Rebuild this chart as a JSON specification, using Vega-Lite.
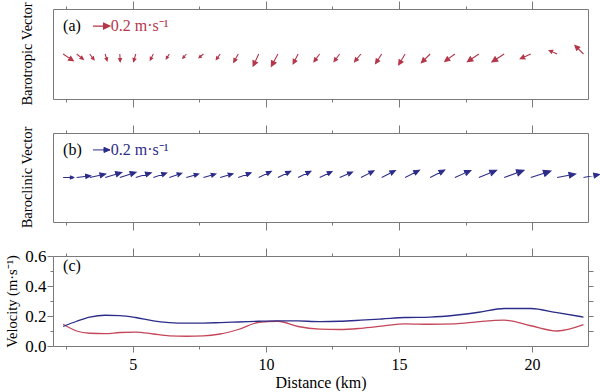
{
  "$schema": "https://vega.github.io/schema/vega-lite/v6.json",
  "padding": {"left": 4, "top": 0, "right": 4, "bottom": 0},
  "bounds": "flush",
  "spacing": 34,
  "datasets": {
    "st": [
      {"x": 2.38, "bt": 0.145, "dbt": 34, "bc": 0.13, "dbc": 0},
      {"x": 2.89, "bt": 0.1, "dbt": 39, "bc": 0.165, "dbc": 353},
      {"x": 3.38, "bt": 0.085, "dbt": 53, "bc": 0.192, "dbc": 348},
      {"x": 3.96, "bt": 0.082, "dbt": 74, "bc": 0.205, "dbc": 343},
      {"x": 4.51, "bt": 0.09, "dbt": 87, "bc": 0.203, "dbc": 342},
      {"x": 5.11, "bt": 0.093, "dbt": 106, "bc": 0.19, "dbc": 343},
      {"x": 5.77, "bt": 0.08, "dbt": 117, "bc": 0.167, "dbc": 341},
      {"x": 6.37, "bt": 0.068, "dbt": 122, "bc": 0.156, "dbc": 341},
      {"x": 7.01, "bt": 0.065, "dbt": 130, "bc": 0.152, "dbc": 344},
      {"x": 7.65, "bt": 0.067, "dbt": 140, "bc": 0.153, "dbc": 344},
      {"x": 8.28, "bt": 0.08, "dbt": 125, "bc": 0.156, "dbc": 344},
      {"x": 8.96, "bt": 0.11, "dbt": 119, "bc": 0.16, "dbc": 340},
      {"x": 9.73, "bt": 0.158, "dbt": 115, "bc": 0.165, "dbc": 334},
      {"x": 10.45, "bt": 0.165, "dbt": 118, "bc": 0.168, "dbc": 334},
      {"x": 11.21, "bt": 0.13, "dbt": 117, "bc": 0.167, "dbc": 334},
      {"x": 12.02, "bt": 0.113, "dbt": 127, "bc": 0.163, "dbc": 334},
      {"x": 12.77, "bt": 0.11, "dbt": 127, "bc": 0.165, "dbc": 337},
      {"x": 13.57, "bt": 0.118, "dbt": 130, "bc": 0.172, "dbc": 333},
      {"x": 14.35, "bt": 0.132, "dbt": 123, "bc": 0.18, "dbc": 333},
      {"x": 15.23, "bt": 0.148, "dbt": 121, "bc": 0.19, "dbc": 333},
      {"x": 16.17, "bt": 0.145, "dbt": 135, "bc": 0.193, "dbc": 333},
      {"x": 17.1, "bt": 0.148, "dbt": 144, "bc": 0.205, "dbc": 336},
      {"x": 18.0, "bt": 0.163, "dbt": 146, "bc": 0.225, "dbc": 338},
      {"x": 18.95, "bt": 0.172, "dbt": 147, "bc": 0.25, "dbc": 340},
      {"x": 19.95, "bt": 0.135, "dbt": 156, "bc": 0.25, "dbc": 342},
      {"x": 20.94, "bt": 0.1, "dbt": 204, "bc": 0.222, "dbc": 349},
      {"x": 21.93, "bt": 0.142, "dbt": 225, "bc": 0.193, "dbc": 349}
    ]
  },
  "vconcat": [
    {
      "width": 535,
      "height": 90,
      "title": {"text": "Barotropic Vector", "orient": "left", "anchor": "middle", "offset": 18, "font": "Liberation Serif", "fontSize": 14.5, "fontWeight": "normal", "color": "#000"},
      "resolve": {"axis": {"x": "independent"}},
      "layer": [
        {
          "data": {"name": "st"},
          "mark": {"type": "point", "shape": "M0,0L2,0M2,0L1.25,-0.36L1.25,0.36Z", "filled": true, "fill": "#b5364a", "stroke": "#b5364a", "strokeWidth": 1.1, "opacity": 1},
          "encoding": {
            "x": {"field": "x", "type": "quantitative", "scale": {"domain": [2, 22.1], "nice": false, "zero": false},
              "axis": {"orient": "bottom", "values": [2.5, 5, 7.5, 10, 12.5, 15, 17.5, 20], "labels": false, "title": null,
                "tickSize": {"condition": {"test": "datum.value % 5 === 0", "value": 8}, "value": 3}}},
            "y": {"datum": 0, "type": "quantitative", "scale": {"domain": [-1, 1]}, "axis": null},
            "size": {"field": "bt", "type": "quantitative", "scale": {"type": "pow", "exponent": 2, "domain": [0, 0.2], "range": [0, 289]}, "legend": null},
            "angle": {"field": "dbt", "type": "quantitative", "scale": null}
          }
        },
        {
          "data": {"values": [{}]},
          "mark": {"type": "text", "text": "(a)", "align": "left", "baseline": "middle", "font": "Liberation Serif", "fontSize": 16, "color": "#000"},
          "encoding": {
            "x": {"datum": 2.38, "type": "quantitative",
              "axis": {"orient": "top", "values": [2.5, 5, 7.5, 10, 12.5, 15, 17.5, 20], "labels": false, "title": null,
                "tickSize": {"condition": {"test": "datum.value % 5 === 0", "value": 8}, "value": 3}}},
            "y": {"datum": 0.62, "type": "quantitative", "axis": null}
          }
        },
        {
          "data": {"values": [{}]},
          "mark": {"type": "point", "shape": "M0,0L2,0M2,0L1.25,-0.36L1.25,0.36Z", "filled": true, "fill": "#b5364a", "stroke": "#b5364a", "strokeWidth": 1.1, "opacity": 1},
          "encoding": {
            "x": {"datum": 3.5, "type": "quantitative", "axis": null},
            "y": {"datum": 0.62, "type": "quantitative", "axis": null},
            "size": {"datum": 0.2, "type": "quantitative", "legend": null}
          }
        },
        {
          "data": {"values": [{}]},
          "mark": {"type": "text", "text": "0.2 m·s⁻¹", "align": "left", "baseline": "middle", "font": "Liberation Serif", "fontSize": 16, "color": "#b5364a"},
          "encoding": {
            "x": {"datum": 4.17, "type": "quantitative", "axis": null},
            "y": {"datum": 0.62, "type": "quantitative", "axis": null}
          }
        }
      ]
    },
    {
      "width": 535,
      "height": 89,
      "title": {"text": "Baroclinic Vector", "orient": "left", "anchor": "middle", "offset": 18, "font": "Liberation Serif", "fontSize": 14.5, "fontWeight": "normal", "color": "#000"},
      "resolve": {"axis": {"x": "independent"}},
      "layer": [
        {
          "data": {"name": "st"},
          "mark": {"type": "point", "shape": "M0,0L2,0M2,0L1.3,-0.3L1.3,0.3Z", "filled": true, "fill": "#2c2c8a", "stroke": "#2c2c8a", "strokeWidth": 1, "opacity": 1},
          "encoding": {
            "x": {"field": "x", "type": "quantitative", "scale": {"domain": [2, 22.1], "nice": false, "zero": false},
              "axis": {"orient": "bottom", "values": [2.5, 5, 7.5, 10, 12.5, 15, 17.5, 20], "labels": false, "title": null,
                "tickSize": {"condition": {"test": "datum.value % 5 === 0", "value": 8}, "value": 3}}},
            "y": {"datum": 0, "type": "quantitative", "scale": {"domain": [-1, 1]}, "axis": null},
            "size": {"field": "bc", "type": "quantitative", "scale": {"type": "pow", "exponent": 2, "domain": [0, 0.2], "range": [0, 289]}, "legend": null},
            "angle": {"field": "dbc", "type": "quantitative", "scale": null}
          }
        },
        {
          "data": {"values": [{}]},
          "mark": {"type": "text", "text": "(b)", "align": "left", "baseline": "middle", "font": "Liberation Serif", "fontSize": 16, "color": "#000"},
          "encoding": {
            "x": {"datum": 2.38, "type": "quantitative",
              "axis": {"orient": "top", "values": [2.5, 5, 7.5, 10, 12.5, 15, 17.5, 20], "labels": false, "title": null,
                "tickSize": {"condition": {"test": "datum.value % 5 === 0", "value": 8}, "value": 3}}},
            "y": {"datum": 0.62, "type": "quantitative", "axis": null}
          }
        },
        {
          "data": {"values": [{}]},
          "mark": {"type": "point", "shape": "M0,0L2,0M2,0L1.3,-0.3L1.3,0.3Z", "filled": true, "fill": "#2c2c8a", "stroke": "#2c2c8a", "strokeWidth": 1, "opacity": 1},
          "encoding": {
            "x": {"datum": 3.5, "type": "quantitative", "axis": null},
            "y": {"datum": 0.62, "type": "quantitative", "axis": null},
            "size": {"datum": 0.2, "type": "quantitative", "legend": null}
          }
        },
        {
          "data": {"values": [{}]},
          "mark": {"type": "text", "text": "0.2 m·s⁻¹", "align": "left", "baseline": "middle", "font": "Liberation Serif", "fontSize": 16, "color": "#2c2c8a"},
          "encoding": {
            "x": {"datum": 4.17, "type": "quantitative", "axis": null},
            "y": {"datum": 0.62, "type": "quantitative", "axis": null}
          }
        }
      ]
    },
    {
      "width": 535,
      "height": 90,
      "resolve": {"axis": {"x": "independent", "y": "independent"}},
      "layer": [
        {
          "data": {"name": "st"},
          "mark": {"type": "line", "color": "#c4475a", "strokeWidth": 1.3, "interpolate": "monotone"},
          "encoding": {
            "x": {"field": "x", "type": "quantitative", "scale": {"domain": [2, 22.1], "nice": false, "zero": false},
              "axis": {"orient": "bottom", "values": [2.5, 5, 7.5, 10, 12.5, 15, 17.5, 20], "title": "Distance (km)", "titleFontSize": 16, "titlePadding": 2,
                "labelExpr": "datum.value % 5 === 0 ? datum.label : ''", "labelPadding": 4, "labelFontSize": 16,
                "tickSize": {"condition": {"test": "datum.value % 5 === 0", "value": 6}, "value": 3}}},
            "y": {"field": "bt", "type": "quantitative", "scale": {"domain": [0, 0.6], "nice": false},
              "axis": {"orient": "left", "title": "Velocity (m·s⁻¹)", "titlePadding": 5, "values": [0, 0.1, 0.2, 0.3, 0.4, 0.5, 0.6],
                "labelExpr": "round(datum.value*10) % 2 === 0 ? format(datum.value, '.1f') : ''", "labelPadding": 1, "labelFontSize": 17,
                "tickSize": {"condition": {"test": "round(datum.value*10) % 2 === 0", "value": 6}, "value": 3}}}
          }
        },
        {
          "data": {"name": "st"},
          "mark": {"type": "line", "color": "#2c2c8a", "strokeWidth": 1.3, "interpolate": "monotone"},
          "encoding": {
            "x": {"field": "x", "type": "quantitative",
              "axis": {"orient": "top", "values": [2.5, 5, 7.5, 10, 12.5, 15, 17.5, 20], "labels": false, "title": null,
                "tickSize": {"condition": {"test": "datum.value % 5 === 0", "value": 8}, "value": 3}}},
            "y": {"field": "bc", "type": "quantitative",
              "axis": {"orient": "right", "values": [0.1, 0.2, 0.3, 0.4, 0.5], "labels": false, "title": null, "tickSize": 5}}
          }
        },
        {
          "data": {"values": [{}]},
          "mark": {"type": "text", "text": "(c)", "align": "left", "baseline": "middle", "font": "Liberation Serif", "fontSize": 16, "color": "#000"},
          "encoding": {
            "x": {"datum": 2.38, "type": "quantitative", "axis": null},
            "y": {"datum": 0.535, "type": "quantitative", "axis": null}
          }
        }
      ]
    }
  ],
  "config": {
    "font": "Liberation Serif",
    "text": {"font": "Liberation Serif"},
    "view": {"stroke": "#7a7a7a", "strokeWidth": 1},
    "axis": {"domain": false, "grid": false, "tickColor": "#7a7a7a", "labelFont": "Liberation Serif", "labelFontSize": 15, "labelColor": "#000",
      "titleFont": "Liberation Serif", "titleFontSize": 14.5, "titleFontWeight": "normal", "titleColor": "#000"}
  }
}
